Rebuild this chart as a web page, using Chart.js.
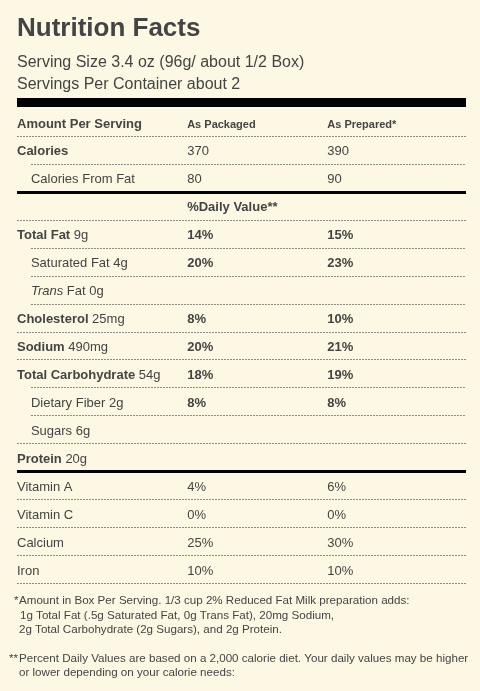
<!DOCTYPE html>
<html>
<head>
<meta charset="utf-8">
<script src="https://cdn.jsdelivr.net/npm/chart.js@4/dist/chart.umd.min.js"></script>
<style>
  html, body { margin: 0; padding: 0; background: #fdf8e3; }
  #wrap { width: 480px; height: 691px; }
</style>
</head>
<body>
<div id="wrap"><canvas id="myChart" width="480" height="691"></canvas></div>
<script>
// Label data
const title = "Nutrition Facts";
const servingLines = ["Serving Size 3.4 oz (96g/ about 1/2 Box)", "Servings Per Container about 2"];

const rowNames = ["Amount Per Serving", "Calories", "Calories From Fat", "", "Total Fat", "Saturated Fat", "Trans Fat",
  "Cholesterol", "Sodium", "Total Carbohydrate", "Dietary Fiber", "Sugars", "Protein",
  "Vitamin A", "Vitamin C", "Calcium", "Iron"];
const rowAmounts = ["", "", "", "", "9g", "4g", "0g", "25mg", "490mg", "54g", "2g", "6g", "20g", "", "", "", ""];
// main = bold nutrient, sub = indented, head = column header, dv = daily value header, vit = vitamin/mineral
const rowKinds = ["head", "main", "sub", "dv", "main", "sub", "sub", "main", "main", "main", "sub", "sub", "main", "vit", "vit", "vit", "vit"];
const asPackaged = ["As Packaged", "370", "80", "%Daily Value**", "14%", "20%", "", "8%", "20%", "18%", "8%", "", "", "4%", "0%", "25%", "10%"];
const asPrepared = ["As Prepared*", "390", "90", "", "15%", "23%", "", "10%", "21%", "19%", "8%", "", "", "6%", "0%", "30%", "10%"];
// line under each row: full, indent, thick
const rowRules = ["full", "indent", "thick", "full", "indent", "indent", "indent", "full", "full", "indent", "indent", "full", "thick", "full", "full", "full", "full"];

const footnote1 = ["Amount in Box Per Serving. 1/3 cup 2% Reduced Fat Milk preparation adds:",
  "1g Total Fat (.5g Saturated Fat, 0g Trans Fat), 20mg Sodium,",
  "2g Total Carbohydrate (2g Sugars), and 2g Protein."];
const footnote2 = ["Percent Daily Values are based on a 2,000 calorie diet. Your daily values may be higher",
  "or lower depending on your calorie needs:"];

// column positions on the x scale (0-100)
const COL_LABEL = 0, COL_INDENT = 3.1, COL_PACKAGED = 37.9, COL_PREPARED = 69.1;
const TEXT = "#444444";
const FONT = "'Liberation Sans', Arial, Helvetica, sans-serif";

const labelPlugin = {
  id: "labelPlugin",
  afterDraw(chart) {
    const ctx = chart.ctx;
    const x = chart.scales.x, y = chart.scales.y;
    const area = chart.chartArea;
    const rowH = (y.bottom - y.top) / rowNames.length;
    ctx.save();
    ctx.fillStyle = TEXT;
    ctx.textAlign = "left";

    // header
    ctx.textBaseline = "alphabetic";
    ctx.font = "bold 26px " + FONT;
    ctx.fillText(title, area.left, 36);
    ctx.font = "16px " + FONT;
    ctx.fillText(servingLines[0], area.left, 67);
    ctx.fillText(servingLines[1], area.left, 89);

    // top bar
    ctx.fillStyle = "#000";
    ctx.fillRect(area.left, area.top - 10, area.right - area.left, 9);

    // rows
    ctx.textBaseline = "middle";
    rowNames.forEach((name, i) => {
      const cy = y.getPixelForValue(i) + 2;
      const kind = rowKinds[i];
      ctx.fillStyle = TEXT;
      let px = x.getPixelForValue(kind === "sub" ? COL_INDENT : COL_LABEL);
      if (name) {
        if (name === "Trans Fat") {
          ctx.font = "italic 13px " + FONT;
          ctx.fillText("Trans", px, cy);
          px += ctx.measureText("Trans").width;
          ctx.font = "13px " + FONT;
          ctx.fillText(" Fat", px, cy);
          px += ctx.measureText(" Fat").width;
        } else {
          ctx.font = (kind === "main" || kind === "head" ? "bold " : "") + "13px " + FONT;
          ctx.fillText(name, px, cy);
          px += ctx.measureText(name).width;
        }
        if (rowAmounts[i]) {
          ctx.font = "13px " + FONT;
          ctx.fillText(" " + rowAmounts[i], px, cy);
        }
      }
      let valFont = "13px " + FONT;
      if (kind === "head") valFont = "bold 11px " + FONT;
      else if (kind === "dv" || (kind !== "vit" && asPackaged[i].indexOf("%") >= 0)) valFont = "bold 13px " + FONT;
      ctx.font = valFont;
      ctx.fillText(asPackaged[i], x.getPixelForValue(COL_PACKAGED), cy + (kind === "head" ? 1 : 0));
      ctx.fillText(asPrepared[i], x.getPixelForValue(COL_PREPARED), cy + (kind === "head" ? 1 : 0));

      // rule under the row
      const ly = Math.round(y.getPixelForValue(i) + rowH / 2);
      const rule = rowRules[i];
      if (rule === "thick") {
        ctx.fillStyle = "#000";
        ctx.fillRect(area.left, ly - 1, area.right - area.left, 3);
      } else {
        ctx.strokeStyle = "#8f8b80";
        ctx.lineWidth = 1;
        ctx.setLineDash([2, 1]);
        ctx.beginPath();
        const lx = rule === "indent" ? x.getPixelForValue(COL_INDENT) : area.left;
        ctx.moveTo(lx, ly + 0.5);
        ctx.lineTo(area.right, ly + 0.5);
        ctx.stroke();
        ctx.setLineDash([]);
      }
    });

    // footnotes
    ctx.fillStyle = TEXT;
    ctx.textBaseline = "alphabetic";
    ctx.font = "11.6px " + FONT;
    ctx.fillText("*", 14, 604);
    ctx.fillText(footnote1[0], 19, 604);
    ctx.fillText(footnote1[1], 20, 619);
    ctx.fillText(footnote1[2], 19, 633);
    ctx.fillText("**", 9, 662);
    ctx.fillText(footnote2[0], 19, 662);
    ctx.fillText(footnote2[1], 19, 676);
    ctx.restore();
  }
};

const ctx = document.getElementById("myChart").getContext("2d");
const chart = new Chart(ctx, {
  type: "bar",
  data: { labels: rowNames.map((n, i) => n || asPackaged[i]), datasets: [] },
  options: {
    responsive: false,
    animation: false,
    indexAxis: "y",
    layout: { padding: { top: 108, bottom: 108, left: 17, right: 14 } },
    scales: {
      x: { type: "linear", min: 0, max: 100, display: false },
      y: { type: "category", offset: true, display: false }
    },
    plugins: { legend: { display: false }, tooltip: { enabled: false }, title: { display: false } }
  },
  plugins: [labelPlugin]
});
</script>
</body>
</html>
